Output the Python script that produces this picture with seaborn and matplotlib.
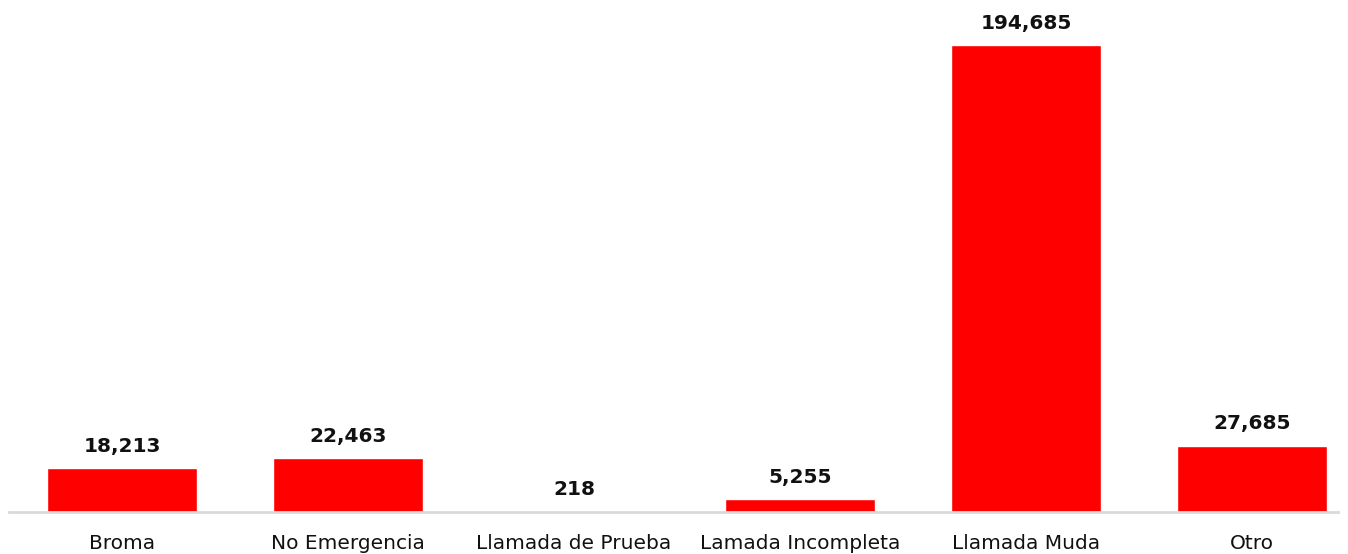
import matplotlib
matplotlib.use('Agg')
import matplotlib.pyplot as plt
import seaborn as sns
import pandas as pd

# Data
categories = ['Broma', 'No Emergencia', 'Llamada de Prueba', 'Lamada Incompleta', 'Llamada Muda', 'Otro']
counts = [18213, 22463, 218, 5255, 194685, 27685]

df = pd.DataFrame({'tipo': categories, 'llamadas': counts})

sns.set_theme(style='white')
plt.rcParams['font.family'] = ['DejaVu Sans']

W, H = 1348, 554
fig = plt.figure(figsize=(W / 100, H / 100), dpi=100)

# axes placed in pixels: baseline at y=512, left edge at x=9
left_px, right_px = 9, 1338
base_px = 512
ax = fig.add_axes([left_px / W, (H - base_px) / H, (right_px - left_px) / W, base_px / H])

sns.barplot(data=df, x='tipo', y='llamadas', color='#FF0000', saturation=1,
            width=0.664, ax=ax)

step_px = 226
ax.set_xlim(-0.5, -0.5 + (right_px - left_px) / step_px)
ax.set_ylim(0, max(counts) * base_px / 467)

# value labels on top of the bars
for i, v in enumerate(counts):
    ax.annotate(f'{v:,}', (i, v), xytext=(0, 9), textcoords='offset points',
                ha='center', va='bottom', fontsize=14.5, fontweight='bold', color='#111111')

for side in ['top', 'right', 'left']:
    ax.spines[side].set_visible(False)
ax.spines['bottom'].set_color('#D9D9D9')
ax.spines['bottom'].set_linewidth(2)

ax.set_yticks([])
ax.set_xlabel('')
ax.set_ylabel('')
ax.tick_params(axis='x', length=0, pad=16, labelsize=14.5, labelcolor='#111111')

fig.savefig('out.png', dpi=100)
